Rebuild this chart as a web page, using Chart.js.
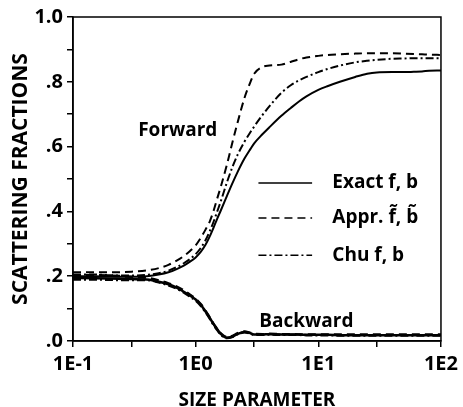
<!DOCTYPE html>
<html>
<head>
<meta charset="utf-8">
<script src="https://cdn.jsdelivr.net/npm/chart.js@4.4.1/dist/chart.umd.min.js"></script>
<style>
  html, body { margin: 0; padding: 0; background: #fff; }
</style>
</head>
<body>
<canvas id="scatter-chart" width="463" height="407"></canvas>
<script>
// size parameter samples (shared by every curve)
var sizeParam = [0.1, 0.15, 0.2, 0.3, 0.4, 0.5, 0.6, 0.7, 0.8, 0.9, 1.0, 1.1, 1.2, 1.3, 1.4, 1.5, 1.6, 1.8, 2.0, 2.2, 2.5, 2.8, 3.0, 3.5, 4, 5, 6, 7, 8, 10, 12, 15, 20, 25, 30, 40, 50, 60, 70, 80, 100];

// forward fractions
var exactFwd = [0.200, 0.200, 0.199, 0.198, 0.200, 0.205, 0.212, 0.222, 0.233, 0.245, 0.258, 0.275, 0.296, 0.322, 0.350, 0.378, 0.402, 0.448, 0.488, 0.522, 0.563, 0.593, 0.610, 0.638, 0.660, 0.695, 0.720, 0.740, 0.755, 0.775, 0.787, 0.800, 0.815, 0.825, 0.829, 0.830, 0.830, 0.831, 0.832, 0.834, 0.835];
var apprFwd  = [0.212, 0.212, 0.212, 0.214, 0.218, 0.225, 0.235, 0.248, 0.262, 0.278, 0.295, 0.318, 0.343, 0.368, 0.402, 0.440, 0.475, 0.545, 0.615, 0.675, 0.750, 0.800, 0.825, 0.846, 0.850, 0.853, 0.862, 0.870, 0.875, 0.880, 0.883, 0.885, 0.887, 0.888, 0.888, 0.888, 0.887, 0.886, 0.885, 0.884, 0.883];
var chuFwd   = [0.205, 0.205, 0.203, 0.202, 0.204, 0.209, 0.217, 0.228, 0.240, 0.253, 0.268, 0.287, 0.310, 0.338, 0.368, 0.400, 0.430, 0.490, 0.538, 0.575, 0.615, 0.645, 0.662, 0.697, 0.725, 0.766, 0.790, 0.805, 0.815, 0.830, 0.840, 0.850, 0.860, 0.865, 0.868, 0.871, 0.872, 0.873, 0.873, 0.873, 0.873];

// backward fractions
var exactBwd = [0.195, 0.194, 0.193, 0.191, 0.190, 0.183, 0.175, 0.165, 0.152, 0.140, 0.128, 0.112, 0.092, 0.072, 0.052, 0.036, 0.022, 0.010, 0.014, 0.022, 0.028, 0.024, 0.020, 0.020, 0.021, 0.020, 0.020, 0.020, 0.019, 0.019, 0.019, 0.018, 0.018, 0.018, 0.018, 0.018, 0.018, 0.018, 0.018, 0.018, 0.018];
var apprBwd  = [0.203, 0.203, 0.202, 0.198, 0.195, 0.187, 0.178, 0.168, 0.156, 0.143, 0.130, 0.114, 0.094, 0.073, 0.053, 0.037, 0.024, 0.012, 0.016, 0.024, 0.029, 0.025, 0.022, 0.021, 0.022, 0.021, 0.021, 0.020, 0.020, 0.020, 0.020, 0.020, 0.020, 0.020, 0.020, 0.020, 0.020, 0.020, 0.020, 0.020, 0.020];
var chuBwd   = [0.190, 0.190, 0.189, 0.188, 0.188, 0.181, 0.172, 0.162, 0.150, 0.137, 0.125, 0.109, 0.090, 0.070, 0.050, 0.034, 0.020, 0.009, 0.013, 0.021, 0.027, 0.023, 0.019, 0.019, 0.020, 0.019, 0.019, 0.019, 0.018, 0.018, 0.018, 0.017, 0.017, 0.017, 0.017, 0.017, 0.017, 0.017, 0.017, 0.017, 0.017];

var xTickValues = [0.1, 0.3, 1, 3, 10, 30, 100];
var xTickLabels = {0.1: '1E-1', 1: '1E0', 10: '1E1', 100: '1E2'};
var legendLabels = ['Exact f, b', 'Appr. f\u0303, b\u0303', 'Chu f, b'];

var narrow = "'Liberation Sans Narrow', 'Open Sans', sans-serif";
var plain = "'Open Sans', 'DejaVu Sans', sans-serif";

function pts(ys) {
    return sizeParam.map(function (x, i) { return {x: x, y: ys[i]}; });
}

var styles = [
    {borderDash: []},
    {borderDash: [8, 5]},
    {borderDash: [8, 3, 2, 3]}
];

function line(ys, k, w) {
    return {
        data: pts(ys),
        borderColor: '#000',
        borderWidth: w,
        borderDash: styles[k].borderDash,
        pointRadius: 0,
        cubicInterpolationMode: 'monotone',
        fill: false
    };
}

// legend and curve labels drawn inside the plot, plus the box frame
var annotate = {
    id: 'annotate',
    afterDraw: function (chart) {
        var c = chart.ctx, a = chart.chartArea;
        var xs = chart.scales.x, ys = chart.scales.y;
        c.save();
        c.strokeStyle = '#000';
        c.lineWidth = 1.5;
        c.strokeRect(a.left, a.top, a.right - a.left, a.bottom - a.top);

        c.fillStyle = '#000';
        c.font = 'bold 19px ' + plain;
        c.textBaseline = 'middle';
        c.fillText('Forward', xs.getPixelForValue(0.34), ys.getPixelForValue(0.65));
        c.fillText('Backward', xs.getPixelForValue(3.3), ys.getPixelForValue(0.06));

        var rows = [0.488, 0.380, 0.265];
        for (var i = 0; i < 3; i++) {
            var yy = ys.getPixelForValue(rows[i]);
            c.setLineDash(styles[i].borderDash);
            c.lineWidth = 1.5;
            c.beginPath();
            c.moveTo(xs.getPixelForValue(3.25), yy);
            c.lineTo(xs.getPixelForValue(8.9), yy);
            c.stroke();
            c.setLineDash([]);
            c.fillText(legendLabels[i], xs.getPixelForValue(13), yy);
        }
        c.restore();
    }
};

var ctx = document.getElementById('scatter-chart').getContext('2d');

var config = {
    type: 'line',
    data: {
        datasets: [
            line(exactFwd, 0, 2), line(apprFwd, 1, 2), line(chuFwd, 2, 2),
            line(exactBwd, 0, 2.5), line(apprBwd, 1, 2.5), line(chuBwd, 2, 2.5)
        ]
    },
    options: {
        responsive: false,
        animation: false,
        devicePixelRatio: 1,
        layout: {padding: {top: 17, right: 20, left: 0, bottom: 0}},
        plugins: {
            legend: {display: false},
            tooltip: {enabled: false}
        },
        scales: {
            x: {
                type: 'logarithmic',
                min: 0.1,
                max: 100,
                afterBuildTicks: function (scale) {
                    scale.ticks = xTickValues.map(function (v) { return {value: v}; });
                },
                afterFit: function (scale) { scale.height = 66; },
                ticks: {
                    autoSkip: false,
                    maxRotation: 0,
                    color: '#000',
                    padding: 5,
                    font: {family: narrow, size: 20, weight: 'bold'},
                    callback: function (v) { return xTickLabels[v] || ''; }
                },
                grid: {drawOnChartArea: false, tickLength: 6, color: '#000', lineWidth: 1.5},
                border: {color: '#000', width: 1.5},
                title: {
                    display: true,
                    text: 'SIZE PARAMETER',
                    color: '#000',
                    font: {family: narrow, size: 19, weight: 'bold'},
                    padding: {top: 4, bottom: -5}
                }
            },
            y: {
                min: 0,
                max: 1,
                afterFit: function (scale) { scale.width = 73; },
                ticks: {
                    stepSize: 0.1,
                    color: '#000',
                    padding: 4,
                    font: {family: narrow, size: 20, weight: 'bold'},
                    callback: function (v) {
                        var k = Math.round(v * 10);
                        if (k % 2) return '';
                        return k === 10 ? '1.0' : '.' + k;
                    }
                },
                grid: {drawOnChartArea: false, tickLength: 6, color: '#000', lineWidth: 1.5},
                border: {color: '#000', width: 1.5},
                title: {
                    display: true,
                    text: 'SCATTERING FRACTIONS',
                    color: '#000',
                    font: {family: narrow, size: 21, weight: 'bold'},
                    padding: {top: 8, bottom: 0}
                }
            }
        }
    },
    plugins: [annotate]
};

new Chart(ctx, config);
</script>
</body>
</html>
